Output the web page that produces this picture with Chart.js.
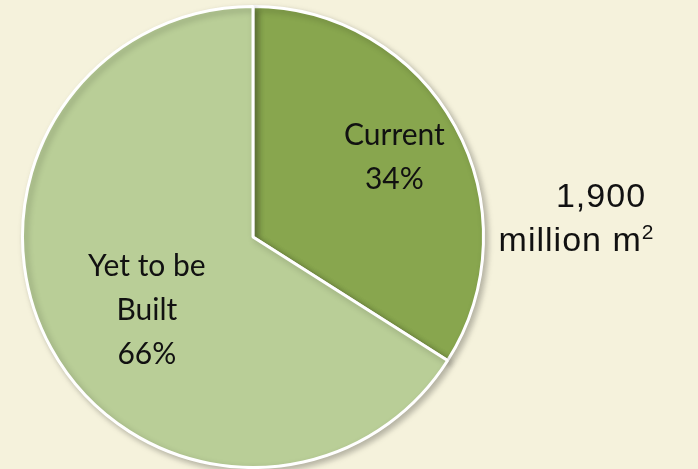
<!DOCTYPE html>
<html>
<head>
<meta charset="utf-8">
<script src="https://cdn.jsdelivr.net/npm/chart.js@4"></script>
<style>
  html, body { margin: 0; padding: 0; background: #f5f2dc; }
  #wrap { position: relative; width: 698px; height: 469px; }
  .note {
    position: absolute; width: 200px;
    text-align: center; font-family: "Liberation Sans", Arial, sans-serif;
    font-size: 34px; line-height: 44px; color: #111; letter-spacing: 1px;
  }
  .note sup { font-size: 21px; vertical-align: 12px; line-height: 0; letter-spacing: 0; }
</style>
</head>
<body>
<div id="wrap">
  <canvas id="chart" width="698" height="469"></canvas>
  <div class="note" style="left:501px; top:173px;">1,900</div>
  <div class="note" style="left:476px; top:217px;">million m<sup>2</sup></div>
</div>
<script>
const labels = ['Current', 'Yet to be Built'];
const shares = [34, 66];
const labelLines = [['Current', '34%'], ['Yet to be', 'Built', '66%']];
const colors = ['#88a64e', '#b9ce97'];

// slice labels drawn inside each arc
const sliceLabels = {
  id: 'sliceLabels',
  afterDatasetsDraw(chart) {
    const ctx = chart.ctx;
    const arcs = chart.getDatasetMeta(0).data;
    const fracs = [0.70, 0.58];
    ctx.save();
    ctx.font = '30px Lato, "Open Sans", sans-serif';
    ctx.fillStyle = '#111';
    ctx.textAlign = 'center';
    ctx.textBaseline = 'middle';
    arcs.forEach((arc, i) => {
      const mid = (arc.startAngle + arc.endAngle) / 2;
      const r = arc.outerRadius * fracs[i];
      const x = arc.x + Math.cos(mid) * r + (i === 1 ? 11 : 0);
      const y = arc.y + Math.sin(mid) * r + (i === 1 ? 9 : -2);
      const lines = labelLines[i];
      const lh = 44;
      lines.forEach((t, j) => {
        ctx.fillText(t, x, y + (j - (lines.length - 1) / 2) * lh);
      });
    });
    ctx.restore();
  }
};

const shadow = {
  id: 'shadow',
  beforeDatasetsDraw(chart) {
    const ctx = chart.ctx;
    ctx.save();
    ctx.shadowColor = 'rgba(0,0,0,0.25)';
    ctx.shadowBlur = 6;
    ctx.shadowOffsetX = 3;
    ctx.shadowOffsetY = 3;
  },
  afterDatasetsDraw(chart) {
    chart.ctx.restore();
  }
};

new Chart(document.getElementById('chart'), {
  type: 'pie',
  data: {
    labels: labels,
    datasets: [{
      data: shares,
      backgroundColor: colors,
      borderColor: '#ffffff',
      borderWidth: 3
    }]
  },
  options: {
    responsive: false,
    animation: false,
    layout: { padding: { top: 5, bottom: 0, left: 0, right: 192 } },
    plugins: {
      legend: { display: false },
      tooltip: { enabled: false }
    }
  },
  plugins: [shadow, sliceLabels]
});
</script>
</body>
</html>
